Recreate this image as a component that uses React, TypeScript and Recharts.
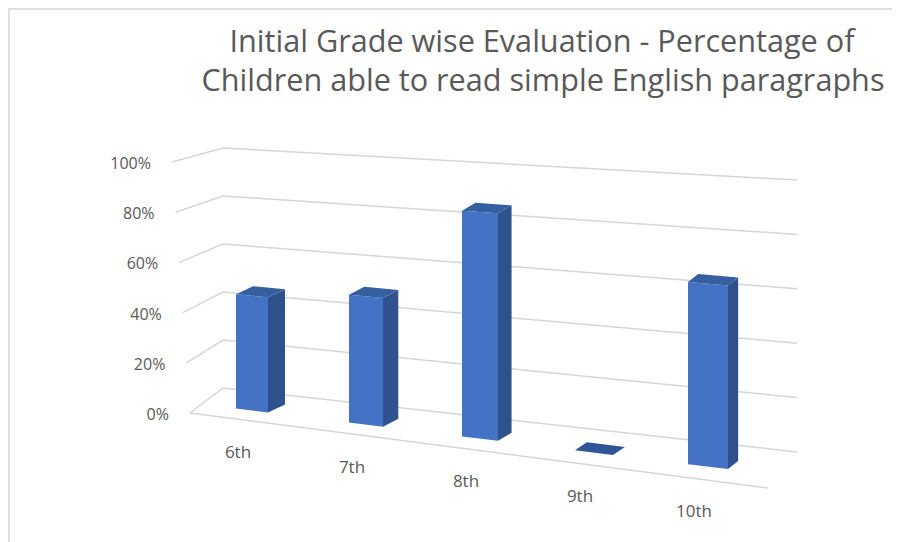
import React from 'react';
import { BarChart, Bar, XAxis, YAxis, CartesianGrid } from 'recharts';

const grades = ['6th', '7th', '8th', '9th', '10th'];
const readingPct = [46, 50, 86, 0, 66];
const pctTicks = [0, 20, 40, 60, 80, 100];

const chartData = grades.map((grade, i) => ({ grade, value: readingPct[i] }));

const OFF = 10; // svg sits inside the 2px frame at the body margin
const W = 890;
const H = 532;
// flat plot box, page coords
const PLOT_T = 159;
const PLOT_B = 407;

const TEXT = '#595959';
const GRID = '#d6d6d6';
const FONT = '"Open Sans", sans-serif';

// push a flat point onto the slanted front plane (svg coords in and out)
const tilt = (x: number, y: number) => {
  const px = x + OFF;
  const py = y + OFF;
  const v = (PLOT_B - py) / (PLOT_B - PLOT_T);
  return py + (px - 223) * (0.123 - 0.06 * v) - OFF;
};

const gridLine = (props: any) => {
  const v = (PLOT_B - (props.y1 + OFF)) / (PLOT_B - PLOT_T);
  const sx = 190 - 18 * v;
  const sy = 413 - 251 * v;
  const cy = 388 - 240 * v;
  const ey = cy + 574 * (0.1115 - 0.0557 * v);
  const pts = `${sx - OFF},${sy - OFF} ${223 - OFF},${cy - OFF} ${797 - OFF},${ey - OFF}`;
  return (
    <g key={`grid-${props.index}`}>
      <polyline points={pts} fill="none" stroke={GRID} strokeWidth={1.5} />
      {v < 0.01 && (
        <line x1={190 - OFF} y1={413 - OFF} x2={768 - OFF} y2={488 - OFF} stroke={GRID} strokeWidth={1.5} />
      )}
    </g>
  );
};

const PctTick = ({ payload }: any) => {
  const v = payload.value / 100;
  const x = 190 - 18 * v - 21 - OFF;
  const y = 413 - 251 * v + 1 - OFF;
  return (
    <text x={x} y={y} textAnchor="end" dominantBaseline="central" fontSize={16} fill={TEXT} fontFamily={FONT}>
      {payload.value}%
    </text>
  );
};

const GradeTick = ({ x, payload }: any) => {
  const lx = x + OFF - 14;
  const ly = 413 + (lx - 190) * 0.13 + 32;
  return (
    <text x={lx - OFF} y={ly - OFF} textAnchor="middle" dominantBaseline="central" fontSize={17} fill={TEXT} fontFamily={FONT}>
      {payload.value}
    </text>
  );
};

const Box3D = (props: any) => {
  const { x, y, width, height } = props;
  const cx = x + width / 2;
  const pcx = cx + OFF;
  const fw = width + (pcx - 252) * 0.0175;
  const x0 = cx - fw / 2;
  const x1 = cx + fw / 2;
  const bot = y + height;
  const dx = 17 - (pcx - 252) * 0.015;
  const dy = -8;
  const tl = [x0, tilt(x0, y)];
  const tr = [x1, tilt(x1, y)];
  const br = [x1, tilt(x1, bot)];
  const bl = [x0, tilt(x0, bot)];
  const pt = (p: number[], ox = 0, oy = 0) => `${p[0] + ox},${p[1] + oy}`;
  const top = [pt(tl), pt(tr), pt(tr, dx, dy), pt(tl, dx, dy)].join(' ');
  if (height < 0.5) {
    return <polygon points={top} fill="#2f5597" />;
  }
  const front = [pt(tl), pt(tr), pt(br), pt(bl)].join(' ');
  const side = [pt(tr), pt(tr, dx, dy), pt(br, dx, dy), pt(br)].join(' ');
  return (
    <g>
      <polygon points={side} fill="#2f528f" />
      <polygon points={front} fill="#4472c4" />
      <polygon points={top} fill="#35609f" />
    </g>
  );
};

export default function App() {
  return (
    <div
      style={{
        position: 'relative',
        width: 892,
        height: 534,
        borderTop: '2px solid #dedede',
        borderLeft: '2px solid #dedede',
        boxSizing: 'border-box',
        background: '#fff',
      }}
    >
      <style>{'html, body { overflow: hidden; }'}</style>
      <svg width={W} height={110} style={{ position: 'absolute', left: 0, top: 0 }}>
        <text x={532} y={42} textAnchor="middle" fontSize={31} fill={TEXT} fontFamily={FONT} textLength={625} lengthAdjust="spacingAndGlyphs">
          Initial Grade wise Evaluation - Percentage of
        </text>
        <text x={533} y={81} textAnchor="middle" fontSize={31} fill={TEXT} fontFamily={FONT} textLength={683} lengthAdjust="spacingAndGlyphs">
          Children able to read simple English paragraphs
        </text>
      </svg>
      <BarChart width={W} height={H} data={chartData} margin={{ top: 149, right: 135, bottom: 105, left: 125 }}>
        <CartesianGrid vertical={false} horizontal={gridLine} />
        <YAxis width={60} domain={[0, 100]} ticks={pctTicks} axisLine={false} tickLine={false} tick={<PctTick />} />
        <XAxis dataKey="grade" height={30} interval={0} axisLine={false} tickLine={false} tick={<GradeTick />} />
        <Bar dataKey="value" barSize={32} shape={Box3D} isAnimationActive={false} />
      </BarChart>
    </div>
  );
}
